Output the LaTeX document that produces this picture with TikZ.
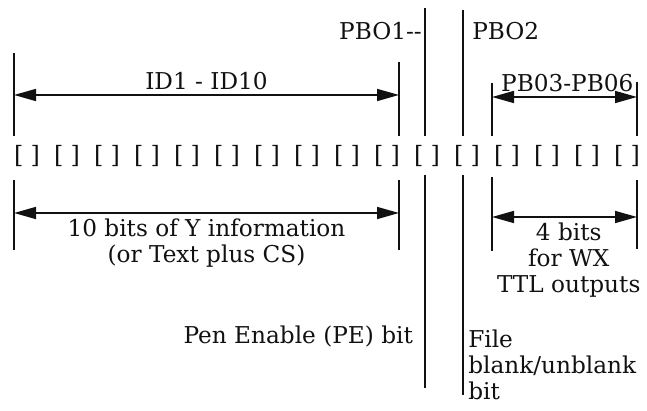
\documentclass[tikz,border=0pt]{standalone}
\usepackage{xcolor}
\usepackage{fontspec}
\setmainfont{DejaVu Serif}
\usepackage{tikz}
\usetikzlibrary{arrows.meta,positioning}
\definecolor{ink}{HTML}{111111}

\begin{document}
\begin{tikzpicture}[
    bitcell/.style={font=\fontsize{17}{17}\selectfont, color=ink, inner sep=0pt},
    tick/.style={draw=ink, line width=1.3pt},
    dimline/.style={draw=ink, line width=1.2pt, {Triangle[length=5.5mm,width=3mm]}-{Triangle[length=5.5mm,width=3mm]}},
    lbl/.style={font=\fontsize{16.5}{18.5}\selectfont, color=ink, align=center}
]
    \useasboundingbox (0,0) rectangle (16.175,10.25);

    % row of bit cells
    \foreach \i in {1,...,16}
        \node[bitcell] (bit\i) at (\i-0.325,6.35) {[\hspace{5pt}]};

    % ticks above the row
    \draw[tick] (0.35,8.925) -- (0.35,6.85);
    \draw[tick] (9.975,8.7) -- (9.975,6.85);
    \draw[tick] (10.625,10.05) -- (10.625,6.85);
    \draw[tick] (11.575,10.0) -- (11.575,6.85);
    \draw[tick] (12.3,8.175) -- (12.3,6.85);
    \draw[tick] (15.925,8.2) -- (15.925,6.85);

    % ticks below the row
    \draw[tick] (0.35,5.75) -- (0.35,4.0);
    \draw[tick] (9.975,5.75) -- (9.975,4.0);
    \draw[tick] (10.625,5.875) -- (10.625,0.55);
    \draw[tick] (11.575,5.875) -- (11.575,0.375);
    \draw[tick] (12.3,5.825) -- (12.3,3.975);
    \draw[tick] (15.925,5.75) -- (15.925,4.025);

    \coordinate (idL) at (0.35,7.875);
    \coordinate (idR) at (9.975,7.875);
    \coordinate (pbL) at (12.3,7.825);
    \coordinate (pbR) at (15.925,7.825);
    \coordinate (yL) at (0.35,4.925);
    \coordinate (yR) at (9.975,4.925);
    \coordinate (wxL) at (12.3,4.825);
    \coordinate (wxR) at (15.925,4.825);

    \draw[dimline] (idL) -- node[lbl, above] (idlbl) {ID1 - ID10} (idR);
    \draw[dimline] (pbL) -- node[lbl, above, xshift=2pt] (pblbl) {PB03-PB06} (pbR);
    \draw[dimline] (yL) -- node[lbl, below] (ylbl) {10 bits of Y information\\(or Text plus CS)} (yR);
    \draw[dimline] (wxL) -- node[lbl, below, xshift=3pt] (wxlbl) {4 bits\\for WX\\TTL outputs} (wxR);

    \node[lbl, anchor=base east, inner sep=0pt] (pbo1) at (10.55,9.25) {PBO1-{}-};
    \node[lbl, anchor=base west, inner sep=0pt] (pbo2) at (11.8,9.25) {PBO2};
    \node[lbl, anchor=base east, inner sep=0pt] (pen) at (10.33,1.675) {Pen Enable (PE) bit};
    \node[lbl, align=left, anchor=north west, inner sep=0pt] (file) at (11.7,2.01) {File\\blank/unblank\\bit};
\end{tikzpicture}
\end{document}
